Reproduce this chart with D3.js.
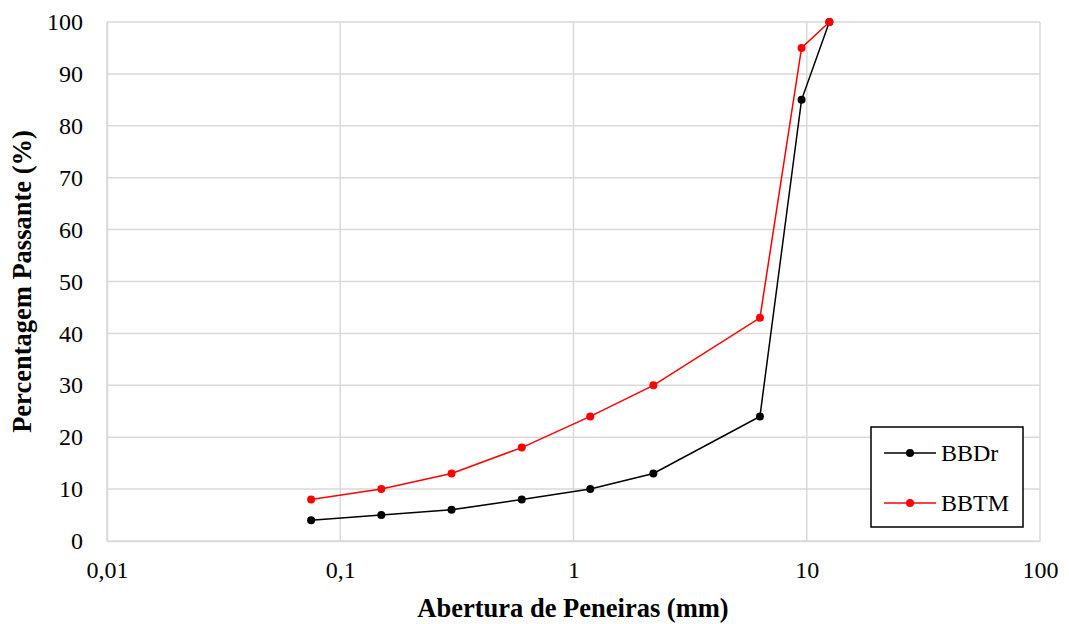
<!doctype html>
<html lang="pt">
  <head>
    <meta charset="utf-8">
    <title>Curva granulométrica</title>
    <script src="https://d3js.org/d3.v7.min.js"></script>
    <style>
      body { margin: 0; background: #fff; }
      svg text { fill: #000; }
    </style>
  </head>
  <body>
    <div id="chart"></div>
  <script>
    // peneiras (mm) e percentagem passante
    const sieves = [0.075, 0.15, 0.3, 0.6, 1.18, 2.2, 6.3, 9.5, 12.5];
    const bbdr = [4, 5, 6, 8, 10, 13, 24, 85, 100];
    const bbtm = [8, 10, 13, 18, 24, 30, 43, 95, 100];
    const xTicks = [0.01, 0.1, 1, 10, 100];
    const xTickLabels = ['0,01', '0,1', '1', '10', '100'];
    const yTicks = [0, 10, 20, 30, 40, 50, 60, 70, 80, 90, 100];
    const seriesNames = ['BBDr', 'BBTM'];
    const seriesColors = ['#000000', '#ff0000'];

    const w = 1069, h = 624;
    const margin = {top: 22, right: 29, bottom: 83, left: 107};
    const serif = 'Liberation Serif, Tinos, DejaVu Serif, serif';

    const svg = d3.select('#chart').append('svg')
      .attr('width', w)
      .attr('height', h)
      .attr('font-family', serif);

    const x = d3.scaleLog()
      .domain([0.01, 100])
      .range([margin.left, w - margin.right]);
    const y = d3.scaleLinear()
      .domain([0, 100])
      .range([h - margin.bottom, margin.top]);

    // gridlines
    svg.append('g')
      .selectAll('line')
      .data(yTicks)
      .join('line')
        .attr('x1', margin.left)
        .attr('x2', w - margin.right)
        .attr('y1', d => y(d))
        .attr('y2', d => y(d))
        .attr('stroke', '#d9d9d9')
        .attr('stroke-width', 1.5);
    svg.append('g')
      .selectAll('line')
      .data(xTicks)
      .join('line')
        .attr('x1', d => x(d))
        .attr('x2', d => x(d))
        .attr('y1', margin.top)
        .attr('y2', h - margin.bottom)
        .attr('stroke', '#d9d9d9')
        .attr('stroke-width', 1.5);

    // axes
    const yAxis = d3.axisLeft(y).tickValues(yTicks).tickSize(0).tickPadding(24);
    const gy = svg.append('g')
      .attr('transform', 'translate(' + margin.left + ',0)')
      .call(yAxis)
      .attr('font-family', serif)
      .attr('font-size', 24);
    gy.select('.domain').attr('stroke', '#d9d9d9').attr('stroke-width', 1.5);
    gy.selectAll('.tick text').attr('fill', '#000');

    const xAxis = d3.axisBottom(x)
      .tickValues(xTicks)
      .tickFormat((d, i) => xTickLabels[i])
      .tickSize(0)
      .tickPadding(20);
    const gx = svg.append('g')
      .attr('transform', 'translate(0,' + (h - margin.bottom) + ')')
      .call(xAxis)
      .attr('font-family', serif)
      .attr('font-size', 24);
    gx.select('.domain').attr('stroke', '#d9d9d9').attr('stroke-width', 1.5);
    gx.selectAll('.tick text').attr('fill', '#000');

    // axis titles
    svg.append('text')
      .attr('x', 573)
      .attr('y', 617)
      .attr('text-anchor', 'middle')
      .attr('font-size', 26.5)
      .attr('font-weight', 'bold')
      .text('Abertura de Peneiras (mm)');
    svg.append('text')
      .attr('transform', 'translate(31,' + ((margin.top + h - margin.bottom) / 2) + ') rotate(-90)')
      .attr('text-anchor', 'middle')
      .attr('font-size', 26.5)
      .attr('font-weight', 'bold')
      .text('Percentagem Passante (%)');

    // series
    const allSeries = [bbdr, bbtm];
    const line = d3.line()
      .x((d, i) => x(sieves[i]))
      .y(d => y(d));

    allSeries.forEach((vals, k) => {
      const g = svg.append('g');
      g.append('path')
        .datum(vals)
        .attr('d', line)
        .attr('fill', 'none')
        .attr('stroke', seriesColors[k])
        .attr('stroke-width', 1.5);
      g.selectAll('circle')
        .data(vals)
        .join('circle')
          .attr('cx', (d, i) => x(sieves[i]))
          .attr('cy', d => y(d))
          .attr('r', 4)
          .attr('fill', seriesColors[k]);
    });

    // legend
    const legend = svg.append('g').attr('transform', 'translate(871,427)');
    legend.append('rect')
      .attr('width', 152)
      .attr('height', 100)
      .attr('fill', '#fff')
      .attr('stroke', '#000')
      .attr('stroke-width', 1.5);
    seriesNames.forEach((name, k) => {
      const ly = 26 + k * 50;
      legend.append('line')
        .attr('x1', 13).attr('x2', 65)
        .attr('y1', ly).attr('y2', ly)
        .attr('stroke', seriesColors[k])
        .attr('stroke-width', 1.5);
      legend.append('circle')
        .attr('cx', 39).attr('cy', ly).attr('r', 4)
        .attr('fill', seriesColors[k]);
      legend.append('text')
        .attr('x', 70).attr('y', ly + 8)
        .attr('font-size', 24)
        .text(name);
    });
  </script>
  </body>
</html>
